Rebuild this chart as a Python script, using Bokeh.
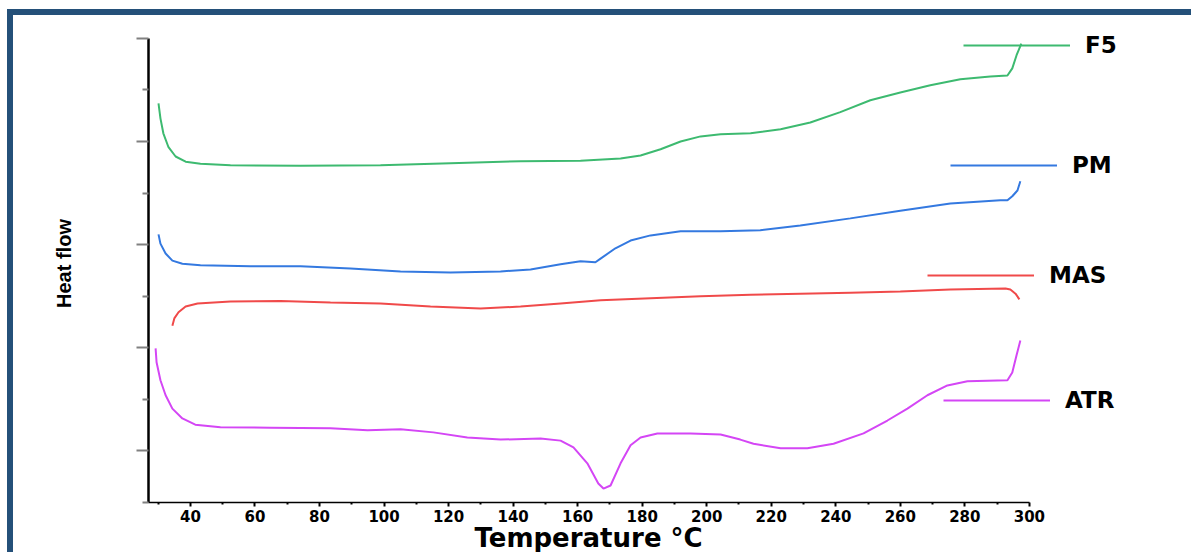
from bokeh.plotting import figure
from bokeh.models import Range1d, FixedTicker, Legend, LegendItem, Title
from bokeh.embed import file_html
from bokeh.resources import INLINE

# ---- data (temperature in °C, heat flow in arbitrary stacked units) ----
f5_T = [30.1, 30.7, 31.6, 33.2, 35.4, 38.5, 43.1, 52.4, 74.1, 98.9, 120.6, 142.3, 160.9,
        173.3, 179.5, 185.7, 191.9, 198.1, 204.3, 213.6, 222.9, 232.1, 241.4, 250.7,
        260.0, 269.3, 278.6, 287.9, 293.2, 294.7, 296.0, 297.5]
f5_hf = [7.74, 7.45, 7.16, 6.89, 6.71, 6.61, 6.57, 6.54, 6.53, 6.54, 6.58, 6.62, 6.63,
         6.67, 6.73, 6.85, 7.00, 7.10, 7.14, 7.16, 7.24, 7.37, 7.57, 7.80,
         7.95, 8.09, 8.21, 8.26, 8.28, 8.42, 8.67, 8.90]

pm_T = [30.1, 30.7, 32.3, 34.4, 37.5, 43.1, 58.6, 74.1, 89.6, 105.1, 120.6, 136.1, 145.4,
        154.7, 160.9, 165.5, 167.1, 171.7, 176.4, 182.6, 191.9, 204.3, 216.6, 229.0,
        244.5, 260.0, 275.5, 291.0, 293.2, 294.7, 296.3, 297.2]
pm_hf = [5.20, 5.02, 4.83, 4.69, 4.63, 4.60, 4.58, 4.58, 4.54, 4.48, 4.46, 4.48, 4.52,
         4.62, 4.68, 4.66, 4.73, 4.93, 5.08, 5.18, 5.26, 5.26, 5.28, 5.37,
         5.51, 5.66, 5.80, 5.86, 5.86, 5.94, 6.05, 6.23]

mas_T = [34.4, 35.0, 36.3, 38.5, 42.2, 52.4, 67.9, 83.4, 98.9, 114.4, 129.9, 142.3, 154.7,
         167.1, 182.6, 198.1, 213.6, 229.0, 244.5, 260.0, 275.5, 292.6, 294.1, 295.7, 296.9]
mas_hf = [3.43, 3.57, 3.69, 3.80, 3.86, 3.90, 3.91, 3.88, 3.86, 3.80, 3.76, 3.80, 3.86,
          3.92, 3.96, 4.00, 4.03, 4.05, 4.07, 4.09, 4.13, 4.15, 4.13, 4.05, 3.94]

atr_T = [29.2, 29.5, 30.7, 32.3, 34.4, 37.5, 41.5, 49.3, 64.8, 83.4, 94.9, 105.1, 115.3,
         125.8, 136.1, 148.5, 154.7, 158.7, 163.0, 166.4, 168.0, 170.2, 173.3, 176.4,
         179.5, 184.7, 195.0, 204.3, 210.4, 214.5, 222.9, 231.2, 239.3, 248.6, 256.0,
         262.2, 268.4, 274.6, 280.8, 293.2, 294.7, 296.0, 297.2]
atr_hf = [2.99, 2.72, 2.37, 2.08, 1.82, 1.63, 1.51, 1.46, 1.45, 1.44, 1.40, 1.42, 1.36,
          1.26, 1.22, 1.24, 1.20, 1.07, 0.76, 0.37, 0.27, 0.33, 0.76, 1.11,
          1.26, 1.34, 1.34, 1.32, 1.22, 1.14, 1.05, 1.05, 1.14, 1.34, 1.59,
          1.82, 2.08, 2.27, 2.35, 2.37, 2.52, 2.85, 3.14]

series_names = ["F5", "PM", "MAS", "ATR"]
x_major_ticks = [40, 60, 80, 100, 120, 140, 160, 180, 200, 220, 240, 260, 280, 300]
x_minor_ticks = [30, 50, 70, 90, 110, 130, 150, 170, 190, 210, 230, 250, 270, 290]
y_major_ticks = [1, 3, 5, 7, 9]
y_minor_ticks = [0, 2, 4, 6, 8]

FRAME_BLUE = "#245079"

p = figure(width=1184, height=543, output_backend="svg", toolbar_location=None,
           x_range=Range1d(27, 352.1), y_range=Range1d(0, 9.27),
           min_border_left=135, min_border_right=0, min_border_top=9, min_border_bottom=56,
           styles={"border-top": f"6px solid {FRAME_BLUE}",
                   "border-left": f"6px solid {FRAME_BLUE}",
                   "margin-left": "7px", "margin-top": "9px"})
p.outline_line_color = None
p.xgrid.grid_line_color = None
p.ygrid.grid_line_color = None

colors = {"F5": "#3dba70", "PM": "#3479e0", "MAS": "#f04a4a", "ATR": "#d446f5"}
r_f5 = p.line(f5_T, f5_hf, line_color=colors["F5"], line_width=2)
r_pm = p.line(pm_T, pm_hf, line_color=colors["PM"], line_width=2)
r_mas = p.line(mas_T, mas_hf, line_color=colors["MAS"], line_width=2)
r_atr = p.line(atr_T, atr_hf, line_color=colors["ATR"], line_width=2)

# x axis
xa = p.xaxis[0]
xa.ticker = FixedTicker(ticks=x_major_ticks, minor_ticks=x_minor_ticks)
xa.bounds = (27, 300)
xa.axis_line_color = "black"
xa.axis_line_width = 1.5
xa.major_tick_line_color = "black"
xa.major_tick_line_width = 2
xa.major_tick_in = 0
xa.major_tick_out = 4
xa.minor_tick_line_color = "black"
xa.minor_tick_line_width = 2
xa.minor_tick_in = 0
xa.minor_tick_out = 2
xa.major_label_text_font = "DejaVu Sans"
xa.major_label_text_font_style = "bold"
xa.major_label_text_font_size = "15px"
xa.major_label_text_color = "black"
xa.major_label_standoff = 3

p.add_layout(Title(text="Temperature °C", align="left", offset=326, standoff=-7,
                   text_font="DejaVu Sans", text_font_style="bold",
                   text_font_size="26px", text_color="black"), "below")

# y axis
ya = p.yaxis[0]
ya.ticker = FixedTicker(ticks=y_major_ticks, minor_ticks=y_minor_ticks)
ya.bounds = (0, 9)
ya.axis_line_color = "black"
ya.axis_line_width = 2.5
ya.major_tick_line_color = "#808080"
ya.major_tick_line_width = 2
ya.major_tick_in = 0
ya.major_tick_out = 12
ya.minor_tick_line_color = "#808080"
ya.minor_tick_line_width = 2
ya.minor_tick_in = 0
ya.minor_tick_out = 6
ya.major_label_overrides = {t: "" for t in y_major_ticks}
ya.major_label_standoff = 0
ya.axis_label = "Heat flow"
ya.axis_label_text_font = "Liberation Sans"
ya.axis_label_text_font_style = "bold"
ya.axis_label_text_font_size = "20px"
ya.axis_label_text_color = "black"
ya.axis_label_standoff = 62

# legend entries placed individually beside the curve ends
legend_pos = {"F5": (815, 444), "PM": (802, 324), "MAS": (779, 214), "ATR": (795, 89)}
renderers = {"F5": r_f5, "PM": r_pm, "MAS": r_mas, "ATR": r_atr}
for name in series_names:
    leg = Legend(items=[LegendItem(label=name, renderers=[renderers[name]])],
                 location=legend_pos[name], border_line_color=None,
                 background_fill_alpha=0, padding=0, margin=0, spacing=0,
                 glyph_width=107, glyph_height=20, label_standoff=15, label_height=20,
                 label_text_font="DejaVu Sans", label_text_font_style="bold",
                 label_text_font_size="23px", label_text_color="black")
    p.add_layout(leg)

open("out.html", "w").write(file_html(p, INLINE))
